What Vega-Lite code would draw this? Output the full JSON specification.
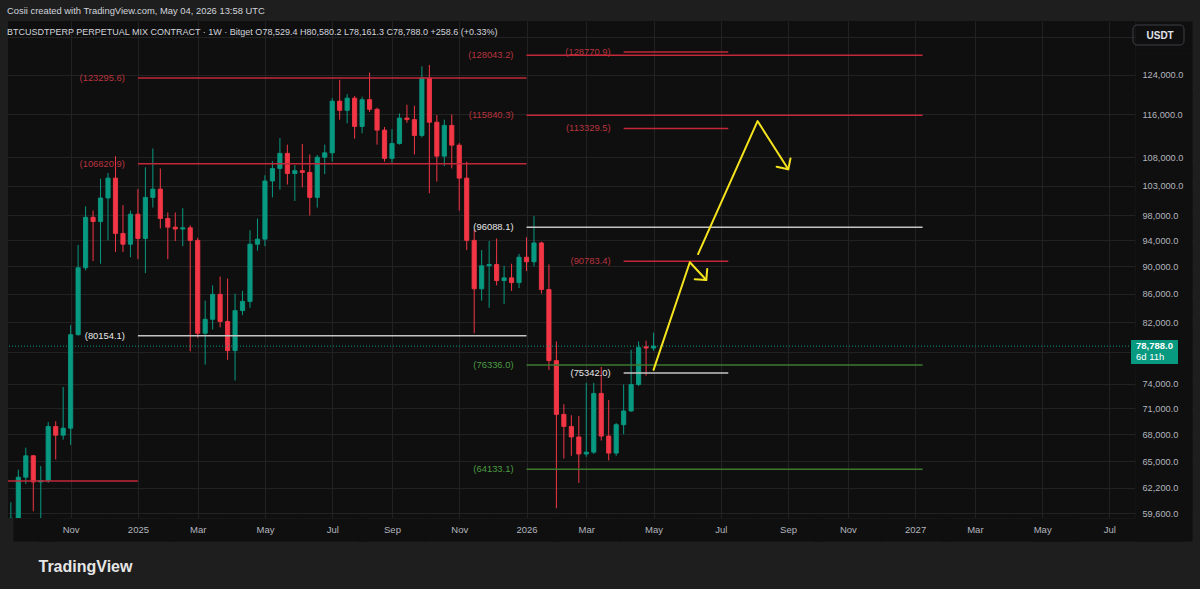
{
  "$schema": "https://vega.github.io/schema/vega-lite/v6.json",
  "width": 1127,
  "height": 497,
  "autosize": {"type": "none"},
  "padding": {"left": 8, "top": 21, "right": 65, "bottom": 71},
  "background": "#1e1e1e",
  "config": {
    "font": "Liberation Sans",
    "view": {"fill": "#0f0f0f", "stroke": null}
  },
  "title": {
    "text": "Cosii created with TradingView.com, May 04, 2026 13:58 UTC",
    "subtitle": "\u00a0\u00a0\u00a0BTCUSDTPERP PERPETUAL MIX CONTRACT · 1W · Bitget O78,529.4 H80,580.2 L78,161.3 C78,788.0 +258.6 (+0.33%)",
    "anchor": "start",
    "frame": "group",
    "orient": "top",
    "fontSize": 9.4,
    "fontWeight": "normal",
    "color": "#d1d4dc",
    "subtitleFontSize": 9.0,
    "subtitleColor": "#d1d4dc",
    "subtitlePadding": 12,
    "offset": -17,
    "dx": -1
  },
  "datasets": {
    "candles": [
      {"d":"2024-09-09","o":54800,"h":60700,"l":54600,"c":59100},
      {"d":"2024-09-16","o":59100,"h":64100,"l":57600,"c":63300},
      {"d":"2024-09-23","o":63300,"h":66500,"l":62600,"c":65600},
      {"d":"2024-09-30","o":65600,"h":65700,"l":59800,"c":62800},
      {"d":"2024-10-07","o":62800,"h":64500,"l":58900,"c":62950},
      {"d":"2024-10-14","o":62950,"h":69400,"l":62700,"c":68900},
      {"d":"2024-10-21","o":68900,"h":69500,"l":65200,"c":67900},
      {"d":"2024-10-28","o":67900,"h":73600,"l":67400,"c":68700},
      {"d":"2024-11-04","o":68700,"h":81600,"l":66800,"c":80300},
      {"d":"2024-11-11","o":80300,"h":93300,"l":80200,"c":89800},
      {"d":"2024-11-18","o":89800,"h":99500,"l":89400,"c":97700},
      {"d":"2024-11-25","o":97700,"h":98800,"l":90800,"c":97000},
      {"d":"2024-12-02","o":97000,"h":104200,"l":90400,"c":100900},
      {"d":"2024-12-09","o":100900,"h":105200,"l":94000,"c":104300},
      {"d":"2024-12-16","o":104300,"h":108200,"l":92200,"c":95100},
      {"d":"2024-12-23","o":95100,"h":99700,"l":92200,"c":93400},
      {"d":"2024-12-30","o":93400,"h":98800,"l":91400,"c":98200},
      {"d":"2025-01-06","o":98200,"h":102400,"l":91100,"c":94300},
      {"d":"2025-01-13","o":94300,"h":106200,"l":89000,"c":101000},
      {"d":"2025-01-20","o":101000,"h":109600,"l":99300,"c":102400},
      {"d":"2025-01-27","o":102400,"h":106000,"l":95900,"c":97500},
      {"d":"2025-02-03","o":97500,"h":98500,"l":91100,"c":96100},
      {"d":"2025-02-10","o":96100,"h":98500,"l":93900,"c":95800},
      {"d":"2025-02-17","o":95800,"h":99200,"l":93100,"c":96000},
      {"d":"2025-02-24","o":96000,"h":96400,"l":78100,"c":94000},
      {"d":"2025-03-03","o":94000,"h":94400,"l":79900,"c":80500},
      {"d":"2025-03-10","o":80500,"h":85000,"l":76400,"c":82400},
      {"d":"2025-03-17","o":82400,"h":87200,"l":81000,"c":85900},
      {"d":"2025-03-24","o":85900,"h":88500,"l":81300,"c":82100},
      {"d":"2025-03-31","o":82100,"h":88200,"l":77000,"c":78200},
      {"d":"2025-04-07","o":78200,"h":86000,"l":74400,"c":83600},
      {"d":"2025-04-14","o":83600,"h":86400,"l":83000,"c":84900},
      {"d":"2025-04-21","o":84900,"h":95600,"l":84000,"c":93400},
      {"d":"2025-04-28","o":93400,"h":97500,"l":92400,"c":94200},
      {"d":"2025-05-05","o":94200,"h":104800,"l":93100,"c":103800},
      {"d":"2025-05-12","o":103800,"h":107300,"l":101000,"c":106000},
      {"d":"2025-05-19","o":106000,"h":111500,"l":102300,"c":108700},
      {"d":"2025-05-26","o":108700,"h":110300,"l":103200,"c":105100},
      {"d":"2025-06-02","o":105100,"h":106600,"l":100400,"c":105600},
      {"d":"2025-06-09","o":105600,"h":110400,"l":102700,"c":105300},
      {"d":"2025-06-16","o":105300,"h":108500,"l":98000,"c":101000},
      {"d":"2025-06-23","o":101000,"h":108400,"l":99300,"c":108000},
      {"d":"2025-06-30","o":108000,"h":110300,"l":105000,"c":108800},
      {"d":"2025-07-07","o":108800,"h":119200,"l":107200,"c":118600},
      {"d":"2025-07-14","o":118600,"h":122900,"l":115000,"c":116800},
      {"d":"2025-07-21","o":116800,"h":120000,"l":114300,"c":119200},
      {"d":"2025-07-28","o":119200,"h":119600,"l":111400,"c":113700},
      {"d":"2025-08-04","o":113700,"h":119500,"l":112400,"c":118900},
      {"d":"2025-08-11","o":118900,"h":124400,"l":116500,"c":117000},
      {"d":"2025-08-18","o":117000,"h":117300,"l":110300,"c":113000},
      {"d":"2025-08-25","o":113000,"h":113600,"l":107200,"c":107800},
      {"d":"2025-09-01","o":107800,"h":113200,"l":107000,"c":110500},
      {"d":"2025-09-08","o":110500,"h":116200,"l":110300,"c":115300},
      {"d":"2025-09-15","o":115300,"h":117900,"l":114400,"c":115000},
      {"d":"2025-09-22","o":115000,"h":117700,"l":108500,"c":112000},
      {"d":"2025-09-29","o":112000,"h":125700,"l":111600,"c":123300},
      {"d":"2025-10-06","o":123300,"h":126000,"l":101700,"c":114500},
      {"d":"2025-10-13","o":114500,"h":115900,"l":103700,"c":108200},
      {"d":"2025-10-20","o":108200,"h":115000,"l":106400,"c":113900},
      {"d":"2025-10-27","o":113900,"h":116000,"l":106000,"c":110200},
      {"d":"2025-11-03","o":110200,"h":110600,"l":98800,"c":104300},
      {"d":"2025-11-10","o":104300,"h":107200,"l":92500,"c":94000},
      {"d":"2025-11-17","o":94000,"h":95700,"l":80500,"c":86700},
      {"d":"2025-11-24","o":86700,"h":92500,"l":85000,"c":90100},
      {"d":"2025-12-01","o":90100,"h":93900,"l":84000,"c":90300},
      {"d":"2025-12-08","o":90300,"h":94300,"l":87200,"c":87900},
      {"d":"2025-12-15","o":87900,"h":90100,"l":84500,"c":88300},
      {"d":"2025-12-22","o":88300,"h":90400,"l":86400,"c":87600},
      {"d":"2025-12-29","o":87600,"h":91900,"l":86800,"c":91400},
      {"d":"2026-01-05","o":91400,"h":94500,"l":89300,"c":90700},
      {"d":"2026-01-12","o":90700,"h":97900,"l":90000,"c":93600},
      {"d":"2026-01-19","o":93600,"h":93800,"l":86000,"c":86600},
      {"d":"2026-01-26","o":86600,"h":90300,"l":75700,"c":76900},
      {"d":"2026-02-02","o":76900,"h":79400,"l":60100,"c":70300},
      {"d":"2026-02-09","o":70300,"h":71500,"l":65300,"c":68900},
      {"d":"2026-02-16","o":68900,"h":70200,"l":65600,"c":67700},
      {"d":"2026-02-23","o":67700,"h":70100,"l":62700,"c":65800},
      {"d":"2026-03-02","o":65800,"h":74100,"l":65500,"c":66000},
      {"d":"2026-03-09","o":66000,"h":74100,"l":65800,"c":72800},
      {"d":"2026-03-16","o":72800,"h":76100,"l":67300,"c":67800},
      {"d":"2026-03-23","o":67800,"h":72000,"l":65100,"c":65900},
      {"d":"2026-03-30","o":65900,"h":69300,"l":65600,"c":69100},
      {"d":"2026-04-06","o":69100,"h":73900,"l":68000,"c":70700},
      {"d":"2026-04-13","o":70700,"h":78300,"l":70600,"c":73900},
      {"d":"2026-04-20","o":73900,"h":79400,"l":73700,"c":78600},
      {"d":"2026-04-27","o":78700,"h":79500,"l":75000,"c":78529.4},
      {"d":"2026-05-04","o":78529.4,"h":80580.2,"l":78161.3,"c":78788.0}
    ],
    "levels": [
      {"p":128043.2,"d1":"2026-01-05","d2":"2027-01-11","kind":"red","lbl":"(128043.2)"},
      {"p":128770.9,"d1":"2026-04-06","d2":"2026-07-13","kind":"red","lbl":"(128770.9)"},
      {"p":123295.6,"d1":"2025-01-06","d2":"2026-01-05","kind":"red","lbl":"(123295.6)"},
      {"p":115840.3,"d1":"2026-01-05","d2":"2027-01-11","kind":"red","lbl":"(115840.3)"},
      {"p":113329.5,"d1":"2026-04-06","d2":"2026-07-13","kind":"red","lbl":"(113329.5)"},
      {"p":106820.9,"d1":"2025-01-06","d2":"2026-01-05","kind":"red","lbl":"(106820.9)"},
      {"p":96088.1,"d1":"2026-01-05","d2":"2027-01-11","kind":"white","lbl":"(96088.1)"},
      {"p":90783.4,"d1":"2026-04-06","d2":"2026-07-13","kind":"red","lbl":"(90783.4)"},
      {"p":80154.1,"d1":"2025-01-06","d2":"2026-01-05","kind":"white","lbl":"(80154.1)"},
      {"p":76336.0,"d1":"2026-01-05","d2":"2027-01-11","kind":"green","lbl":"(76336.0)"},
      {"p":75342.0,"d1":"2026-04-06","d2":"2026-07-13","kind":"white","lbl":"(75342.0)"},
      {"p":64133.1,"d1":"2026-01-05","d2":"2027-01-11","kind":"green","lbl":"(64133.1)"},
      {"p":62900,"d1":"2024-06-03","d2":"2025-01-06","kind":"red","lbl":""}
    ],
    "arrows": [
      {"path":"a1","i":0,"d":"2026-05-04T00:00:00Z","p":75720},
      {"path":"a1","i":1,"d":"2026-06-07T00:00:00Z","p":90630},
      {"path":"a1","i":2,"d":"2026-06-22T10:00:00Z","p":87990},
      {"path":"h1","i":0,"d":"2026-06-11T14:00:00Z","p":88090},
      {"path":"h1","i":1,"d":"2026-06-22T10:00:00Z","p":87990},
      {"path":"h1","i":2,"d":"2026-06-23T07:00:00Z","p":89630},
      {"path":"a2","i":0,"d":"2026-06-14T17:00:00Z","p":91880},
      {"path":"a2","i":1,"d":"2026-08-09T10:00:00Z","p":114730},
      {"path":"a2","i":2,"d":"2026-09-07T05:00:00Z","p":105850},
      {"path":"h2","i":0,"d":"2026-08-27T07:00:00Z","p":106300},
      {"path":"h2","i":1,"d":"2026-09-07T05:00:00Z","p":105850},
      {"path":"h2","i":2,"d":"2026-09-09T07:00:00Z","p":107800}
    ],
    "last": [{"p":78788.0,"t1":"78,788.0","t2":"6d 11h"}],
    "top": [{"p":135590}]
  },
  "layer": [
    {
      "data": {"name": "candles"},
      "mark": {"type": "rule", "strokeWidth": 1, "clip": true},
      "encoding": {
        "x": {
          "field": "d", "type": "temporal",
          "scale": {"type": "utc", "domain": [{"year":2024,"month":9,"date":11,"utc":true},{"year":2027,"month":7,"date":24,"hours":7,"utc":true}], "nice": false},
          "axis": {
            "orient": "bottom",
            "zindex": 0,
            "values": [
              {"year":2024,"month":10,"date":2,"hours":7,"utc":true},
              {"year":2024,"month":11,"date":4,"utc":true},
              {"year":2025,"month":1,"date":6,"utc":true},
              {"year":2025,"month":3,"date":3,"utc":true},
              {"year":2025,"month":5,"date":5,"utc":true},
              {"year":2025,"month":7,"date":7,"utc":true},
              {"year":2025,"month":9,"date":1,"utc":true},
              {"year":2025,"month":11,"date":3,"utc":true},
              {"year":2026,"month":1,"date":5,"utc":true},
              {"year":2026,"month":3,"date":2,"utc":true},
              {"year":2026,"month":5,"date":4,"utc":true},
              {"year":2026,"month":7,"date":6,"utc":true},
              {"year":2026,"month":9,"date":7,"utc":true},
              {"year":2026,"month":11,"date":2,"utc":true},
              {"year":2027,"month":1,"date":4,"utc":true},
              {"year":2027,"month":3,"date":1,"utc":true},
              {"year":2027,"month":5,"date":3,"utc":true},
              {"year":2027,"month":7,"date":5,"utc":true}
            ],
            "labelExpr": "datum.value < utc(2024, 9, 20) ? '' : (utcmonth(datum.value) === 0 ? utcFormat(datum.value, '%Y') : utcFormat(datum.value, '%b'))",
            "grid": true,
            "gridColor": {"condition": {"test": "datum.value < utc(2024, 9, 20)", "value": "transparent"}, "value": "#222222"},
            "gridWidth": 1,
            "ticks": true,
            "tickSize": 23,
            "tickColor": "#0f0f0f",
            "tickCap": "butt",
            "tickWidth": {"condition": [{"test": "datum.value < utc(2024, 9, 20)", "value": 46}, {"test": "datum.value > utc(2027, 5, 1)", "value": 156}], "value": 70},
            "domain": false,
            "labelBaseline": "middle",
            "labelAlign": "center",
            "labelPadding": -11.5,
            "labelColor": "#b2b5be",
            "labelFontSize": 9.5,
            "labelOverlap": false,
            "labelFlush": false,
            "title": "TradingView",
            "titleX": 30,
            "titleY": 48,
            "titleAlign": "left",
            "titleAnchor": "start",
            "titleBaseline": "middle",
            "titleFontSize": 16,
            "titleFontWeight": "bold",
            "titleColor": "#e6e6e6"
          }
        },
        "y": {
          "field": "l", "type": "quantitative",
          "scale": {"type": "log", "domain": [59130, 135590], "nice": false, "zero": false},
          "axis": {
            "orient": "right",
            "zindex": 0,
            "values": [59600, 62200, 65000, 68000, 71000, 74000, 78000, 82000, 86000, 90000, 94000, 98000, 103000, 108000, 116000, 124000, 132000],
            "labelExpr": "datum.value == 132000 || datum.value == 78000 ? '' : format(datum.value, ',.1f')",
            "grid": true,
            "gridColor": "#222222",
            "gridWidth": 1,
            "ticks": true,
            "tickSize": 57,
            "tickColor": "#0f0f0f",
            "tickCap": "butt",
            "tickWidth": {"condition": [{"test": "datum.value == 132000", "value": 32}, {"test": "datum.value == 59600", "value": 56}], "value": 44},
            "domain": false,
            "labelAlign": "left",
            "labelBaseline": "middle",
            "labelPadding": -50,
            "labelColor": "#b2b5be",
            "labelFontSize": 9.2,
            "labelOverlap": false,
            "labelFlush": false,
            "title": "USDT",
            "titleAngle": 0,
            "titleX": 11,
            "titleY": 14,
            "titleAlign": "left",
            "titleBaseline": "middle",
            "titleFontSize": 10,
            "titleFontWeight": "bold",
            "titleColor": "#e0e3eb"
          }
        },
        "y2": {"field": "h"},
        "color": {"condition": {"test": "datum.c >= datum.o", "value": "#089981"}, "value": "#f23645"}
      }
    },
    {
      "data": {"name": "candles"},
      "mark": {"type": "bar", "width": 4.2, "strokeWidth": 0.9, "clip": true},
      "encoding": {
        "x": {"field": "d", "type": "temporal", "scale": {"type": "utc", "domain": [{"year":2024,"month":9,"date":11,"utc":true},{"year":2027,"month":7,"date":24,"hours":7,"utc":true}], "nice": false}},
        "y": {"field": "o", "type": "quantitative", "scale": {"type": "log", "domain": [59130, 135590], "nice": false, "zero": false}},
        "y2": {"field": "c"},
        "fill": {"condition": {"test": "datum.c >= datum.o", "value": "#089981"}, "value": "#f23645"},
        "stroke": {"condition": {"test": "datum.c >= datum.o", "value": "#089981"}, "value": "#f23645"}
      }
    },
    {
      "data": {"name": "last"},
      "mark": {"type": "rule", "strokeDash": [1, 2], "strokeWidth": 1, "color": "#089981"},
      "encoding": {
        "y": {"field": "p", "type": "quantitative", "scale": {"type": "log", "domain": [59130, 135590], "nice": false, "zero": false}}
      }
    },
    {
      "data": {"name": "levels"},
      "mark": {"type": "rule", "strokeWidth": 1.5, "clip": true},
      "encoding": {
        "x": {"field": "d1", "type": "temporal", "scale": {"type": "utc", "domain": [{"year":2024,"month":9,"date":11,"utc":true},{"year":2027,"month":7,"date":24,"hours":7,"utc":true}], "nice": false}},
        "x2": {"field": "d2"},
        "y": {"field": "p", "type": "quantitative", "scale": {"type": "log", "domain": [59130, 135590], "nice": false, "zero": false}},
        "stroke": {"field": "kind", "type": "nominal", "scale": {"domain": ["red", "green", "white"], "range": ["#c2283a", "#3b7a2f", "#c4c4c4"]}, "legend": null}
      }
    },
    {
      "data": {"name": "levels"},
      "mark": {"type": "text", "align": "right", "baseline": "middle", "dx": -13, "fontSize": 9.4, "clip": true},
      "encoding": {
        "x": {"field": "d1", "type": "temporal", "scale": {"type": "utc", "domain": [{"year":2024,"month":9,"date":11,"utc":true},{"year":2027,"month":7,"date":24,"hours":7,"utc":true}], "nice": false}},
        "y": {"field": "p", "type": "quantitative", "scale": {"type": "log", "domain": [59130, 135590], "nice": false, "zero": false}},
        "text": {"field": "lbl"},
        "fill": {"field": "kind", "type": "nominal", "scale": {"domain": ["red", "green", "white"], "range": ["#b8343f", "#4c9c44", "#e8e8e8"]}, "legend": null}
      }
    },
    {
      "data": {"name": "arrows"},
      "mark": {"type": "line", "color": "#f5e31d", "strokeWidth": 2, "strokeCap": "round", "strokeJoin": "round"},
      "encoding": {
        "x": {"field": "d", "type": "temporal", "scale": {"type": "utc", "domain": [{"year":2024,"month":9,"date":11,"utc":true},{"year":2027,"month":7,"date":24,"hours":7,"utc":true}], "nice": false}},
        "y": {"field": "p", "type": "quantitative", "scale": {"type": "log", "domain": [59130, 135590], "nice": false, "zero": false}},
        "detail": {"field": "path"},
        "order": {"field": "i", "type": "quantitative"}
      }
    },
    {
      "data": {"name": "last"},
      "mark": {"type": "rect", "fill": "#089981", "xOffset": 1, "x2Offset": 48, "yOffset": -6, "y2Offset": 18, "clip": false},
      "encoding": {
        "x": {"datum": {"year":2027,"month":7,"date":24,"hours":7,"utc":true}, "type": "temporal", "scale": {"type": "utc", "domain": [{"year":2024,"month":9,"date":11,"utc":true},{"year":2027,"month":7,"date":24,"hours":7,"utc":true}], "nice": false}},
        "x2": {"datum": {"year":2027,"month":7,"date":24,"hours":7,"utc":true}},
        "y": {"field": "p", "type": "quantitative", "scale": {"type": "log", "domain": [59130, 135590], "nice": false, "zero": false}},
        "y2": {"field": "p"}
      }
    },
    {
      "data": {"name": "top"},
      "mark": {"type": "rect", "fill": "transparent", "stroke": "#3f4148", "strokeWidth": 1, "cornerRadius": 4, "xOffset": 3, "x2Offset": 54, "yOffset": 4, "y2Offset": 24, "clip": false},
      "encoding": {
        "x": {"datum": {"year":2027,"month":7,"date":24,"hours":7,"utc":true}, "type": "temporal", "scale": {"type": "utc", "domain": [{"year":2024,"month":9,"date":11,"utc":true},{"year":2027,"month":7,"date":24,"hours":7,"utc":true}], "nice": false}},
        "x2": {"datum": {"year":2027,"month":7,"date":24,"hours":7,"utc":true}},
        "y": {"field": "p", "type": "quantitative", "scale": {"type": "log", "domain": [59130, 135590], "nice": false, "zero": false}},
        "y2": {"field": "p"}
      }
    },
    {
      "data": {"name": "last"},
      "mark": {"type": "text", "align": "left", "baseline": "middle", "dx": 6, "fontSize": 9.5, "fontWeight": "bold", "color": "#ffffff", "clip": false},
      "encoding": {
        "x": {"datum": {"year":2027,"month":7,"date":24,"hours":7,"utc":true}, "type": "temporal", "scale": {"type": "utc", "domain": [{"year":2024,"month":9,"date":11,"utc":true},{"year":2027,"month":7,"date":24,"hours":7,"utc":true}], "nice": false}},
        "y": {"field": "p", "type": "quantitative", "scale": {"type": "log", "domain": [59130, 135590], "nice": false, "zero": false}},
        "text": {"field": "t1"}
      }
    },
    {
      "data": {"name": "last"},
      "mark": {"type": "text", "align": "left", "baseline": "middle", "dx": 6, "dy": 11, "fontSize": 9.5, "color": "#ffffff", "clip": false},
      "encoding": {
        "x": {"datum": {"year":2027,"month":7,"date":24,"hours":7,"utc":true}, "type": "temporal", "scale": {"type": "utc", "domain": [{"year":2024,"month":9,"date":11,"utc":true},{"year":2027,"month":7,"date":24,"hours":7,"utc":true}], "nice": false}},
        "y": {"field": "p", "type": "quantitative", "scale": {"type": "log", "domain": [59130, 135590], "nice": false, "zero": false}},
        "text": {"field": "t2"}
      }
    }
  ]
}
